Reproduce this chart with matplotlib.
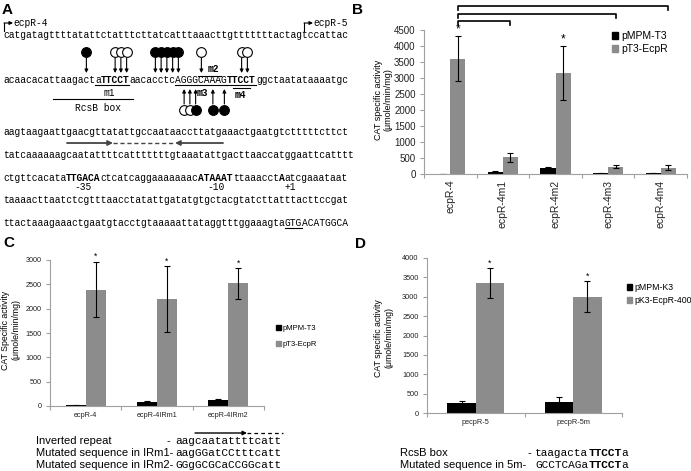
import numpy as np
import matplotlib.pyplot as plt
from matplotlib.patches import Patch
from matplotlib.transforms import blended_transform_factory

W, H = 691, 471
sans = 'Liberation Sans'
mono = 'Liberation Mono'
gry = '#8c8c8c'
axc = '#a0a0a0'

# ---------------- panel A: promoter sequence ----------------
seq_lines = [
    [("catgatagttttatattctatttcttatcatttaaacttgtttttttactagtccattac", "")],
    [("acaacacattaagact", ""), ("a", "u"), ("TTCCT", "bu"), ("aacacctc", ""),
     ("AGGGCAAAG", "u"), ("TTCCT", "bu"), ("ggctaatataaaatgc", "")],
    [("aagtaagaattgaacgttatattgccaataaccttatgaaactgaatgtctttttcttct", "")],
    [("tatcaaaaaagcaatattttcatttttttgtaaatattgacttaaccatggaattcatttt", "")],
    [("ctgttcacata", ""), ("TTGACA", "b"), ("ctcatcaggaaaaaaac", ""), ("ATAAAT", "b"),
     ("ttaaacct", ""), ("A", "b"), ("atcgaaataat", "")],
    [("taaaacttaatctcgtttaacctatattgatatgtgctacgtatcttatttacttccgat", "")],
    [("ttactaaagaaactgaatgtacctgtaaaaattataggtttggaaagta", ""), ("GTG", "u"), ("ACATGGCA", "")],
]
seq_y = [35, 80, 132, 155, 178, 200, 223]
# footprint sites on line 2 (char index, filled?)
top_sites = [(14, True), (19, False), (20, False), (21, False), (26, True), (27, True),
             (28, True), (29, True), (30, True), (34, False), (41, False), (42, False)]
bot_sites = [(31, False), (32, False), (33, True), (36, True), (38, True)]

# ---------------- panel B ----------------
b_cats = ['ecpR-4', 'ecpR-4m1', 'ecpR-4m2', 'ecpR-4m3', 'ecpR-4m4']
b_t3 = [10, 70, 200, 40, 30]
b_t3_err = [3, 10, 20, 6, 8]
b_ecpr = [3600, 520, 3150, 230, 200]
b_ecpr_err = [700, 130, 840, 40, 80]
b_star = [True, False, True, False, False]
b_pairs = [(0, 1), (0, 3), (0, 4)]

# ---------------- panel C ----------------
c_cats = ['ecpR-4', 'ecpR-4IRm1', 'ecpR-4IRm2']
c_t3 = [20, 80, 115]
c_t3_err = [4, 15, 20]
c_ecpr = [2390, 2200, 2520]
c_ecpr_err = [570, 670, 315]
c_star = [True, True, True]

# ---------------- panel D ----------------
d_cats = ['pecpR-5', 'pecpR-5m']
d_k3 = [260, 290]
d_k3_err = [60, 120]
d_ecpr = [3350, 3000]
d_ecpr_err = [390, 400]
d_star = [True, True]


def box(l, t, r, b):
    return [l / W, 1 - b / H, (r - l) / W, (b - t) / H]


fig = plt.figure(figsize=(W / 100, H / 100), dpi=100)
ov = fig.add_axes([0, 0, 1, 1])
ov.set_xlim(0, W)
ov.set_ylim(H, 0)
ov.axis('off')
ov.patch.set_facecolor('none')

x0 = 3.0
cw = 5.75
sfs = cw / 0.6 * 0.72


def seq(x, y, segs, fs, cwid):
    i = 0
    for s, st in segs:
        xs = x + i * cwid
        ov.text(xs, y, s, family=mono, fontsize=fs, ha='left', va='center',
                fontweight='bold' if 'b' in st else 'normal')
        if 'u' in st:
            ov.plot([xs, xs + len(s) * cwid], [y + 5, y + 5], color='k', lw=0.8)
        i += len(s)


for segs, y in zip(seq_lines, seq_y):
    seq(x0, y, segs, sfs, cw)

cx = lambda i: x0 + (i + 0.5) * cw
arw = dict(arrowstyle='-|>', lw=0.8, color='k', mutation_scale=5, shrinkA=0, shrinkB=0)
for i, f in top_sites:
    ov.annotate('', xy=(cx(i), 73), xytext=(cx(i), 58), arrowprops=arw)
    ov.plot(cx(i), 52, 'o', ms=7, mfc='k' if f else 'white', mec='k', mew=0.8)
for i, f in bot_sites:
    ov.annotate('', xy=(cx(i), 89), xytext=(cx(i), 104), arrowprops=arw)
    ov.plot(cx(i), 110, 'o', ms=7, mfc='k' if f else 'white', mec='k', mew=0.8)

# region labels
ov.plot([53, 133], [99, 99], color='k', lw=0.8)
ov.text(109, 93, 'm1', family=mono, fontsize=sfs, ha='center', va='center')
ov.text(98, 108, 'RcsB box', family=mono, fontsize=sfs, ha='center', va='center')
ov.plot([x0 + 34 * cw, x0 + 38 * cw], [76, 76], color='k', lw=0.8)
ov.text(213, 69, 'm2', family=mono, fontsize=sfs, ha='center', va='center', fontweight='bold')
ov.text(202, 93, 'm3', family=mono, fontsize=sfs, ha='center', va='center', fontweight='bold')
ov.plot([x0 + 40 * cw, x0 + 43 * cw], [88, 88], color='k', lw=0.8)
ov.text(240, 95, 'm4', family=mono, fontsize=sfs, ha='center', va='center', fontweight='bold')

# inverted repeat arrows
ov.annotate('', xy=(113, 143), xytext=(67, 143),
            arrowprops=dict(arrowstyle='-|>', lw=1.3, color='#444', mutation_scale=7, shrinkA=0, shrinkB=0))
ov.plot([113, 175], [143, 143], color='#444', lw=1.0, ls=(0, (3, 2)))
ov.annotate('', xy=(175, 143), xytext=(223, 143),
            arrowprops=dict(arrowstyle='-|>', lw=1.3, color='#444', mutation_scale=7, shrinkA=0, shrinkB=0))

ov.text(x0 + 14 * cw, 187, '-35', family=mono, fontsize=sfs, ha='center', va='center')
ov.text(x0 + 37 * cw, 187, '-10', family=mono, fontsize=sfs, ha='center', va='center')
ov.text(x0 + 50 * cw, 187, '+1', family=mono, fontsize=sfs, ha='center', va='center')

# transcription start arrows
for xa, lab in [(4, 'ecpR-4'), (304, 'ecpR-5')]:
    ov.plot([xa, xa], [31, 23], color='k', lw=0.8)
    ov.annotate('', xy=(xa + 9, 23), xytext=(xa, 23), arrowprops=arw)
    ov.text(xa + 9, 23, lab, family=mono, fontsize=sfs, ha='left', va='center')

# panel letters
for lx, ly, l in [(2, 3, 'A'), (352, 3, 'B'), (3, 236, 'C'), (355, 237, 'D')]:
    ov.text(lx, ly, l, family=sans, fontsize=11, fontweight='bold', ha='left', va='top')


def bars(rect, cats, v1, e1, v2, e2, ymax, ystep, bw, fs, rot, stars, cap, yfs=None):
    ax = fig.add_axes(box(*rect))
    x = np.arange(len(cats))
    ekw = dict(ecolor='black', elinewidth=0.8, capsize=cap, capthick=0.8)
    ax.bar(x - bw / 2, v1, bw, color='black', yerr=e1, error_kw=ekw)
    ax.bar(x + bw / 2, v2, bw, color=gry, yerr=e2, error_kw=ekw)
    for i in range(len(cats)):
        if stars[i]:
            ax.text(x[i] + bw / 2, v2[i] + e2[i] + ymax * 0.005, '*', ha='center', va='bottom',
                    fontsize=fs + 1, family=sans)
    ax.set_xlim(-0.5, len(cats) - 0.5)
    ax.set_ylim(0, ymax)
    ax.set_yticks(np.arange(0, ymax + 1, ystep))
    ax.set_xticks(x)
    ax.set_xticklabels(cats, rotation=rot, family=sans, fontsize=fs, color='#222')
    ax.set_xticks(np.arange(len(cats) + 1) - 0.5, minor=True)
    ax.tick_params(axis='x', which='major', length=0, pad=4)
    ax.tick_params(axis='x', which='minor', length=3, color=axc, width=0.8)
    ax.tick_params(axis='y', length=3, color=axc, width=0.8, labelsize=yfs or fs,
                   labelcolor='#222', pad=3)
    for t in ax.get_yticklabels():
        t.set_family(sans)
    for s in ['top', 'right']:
        ax.spines[s].set_visible(False)
    for s in ['left', 'bottom']:
        ax.spines[s].set_color(axc)
        ax.spines[s].set_linewidth(0.8)
    return ax, x


def legend(ax, lx, ly, labels, fs, sp):
    hs = [Patch(color='black'), Patch(color=gry)]
    ax.legend(hs, labels, loc='upper left', bbox_to_anchor=(lx / W, 1 - ly / H),
              bbox_transform=fig.transFigure, frameon=False, prop={'family': sans, 'size': fs},
              handlelength=0.6, handleheight=0.6, handletextpad=0.25, labelspacing=sp,
              borderpad=0, borderaxespad=0)


# B
bw_b = 0.286
axb, xb = bars((424, 30, 687, 174), b_cats, b_t3, b_t3_err, b_ecpr, b_ecpr_err,
               4500, 500, bw_b, 7.5, 90, b_star, 2.2, yfs=7)
legend(axb, 612, 31, ['pMPM-T3', 'pT3-EcpR'], 7.5, 0.3)
tr = blended_transform_factory(axb.transData, fig.transFigure)
for (i, j), yl in zip(b_pairs, [21, 14, 6]):
    xi, xj = xb[i] + bw_b / 2, xb[j] + bw_b / 2
    yt, yb = 1 - yl / H, 1 - (yl + 4) / H
    axb.plot([xi, xi, xj, xj], [yb, yt, yt, yb], color='k', lw=1.2, transform=tr, clip_on=False)
ov.text(383, 100, 'CAT specific activity\n(μmole/min/mg)', rotation=90, ha='center', va='center',
        family=sans, fontsize=6.5, linespacing=1.1)

# C
axc_, xc = bars((50, 260, 264, 406), c_cats, c_t3, c_t3_err, c_ecpr, c_ecpr_err,
                3000, 500, 0.28, 5.2, 0, c_star, 2.0)
legend(axc_, 276, 325, ['pMPM-T3', 'pT3-EcpR'], 5.5, 1.2)
ov.text(11, 330, 'CAT Specific activity\n(μmole/min/mg)', rotation=90, ha='center', va='center',
        family=sans, fontsize=6.3, linespacing=1.15)

# D
axd, xd = bars((427, 258, 622, 413), d_cats, d_k3, d_k3_err, d_ecpr, d_ecpr_err,
               4000, 500, 0.29, 5.3, 0, d_star, 2.0)
legend(axd, 627, 283, ['pMPM-K3', 'pK3-EcpR-400'], 6.3, 0.45)
ov.text(384, 338, 'CAT specific activity\n(μmole/min/mg)', rotation=90, ha='center', va='center',
        family=sans, fontsize=6.3, linespacing=1.2)

# sequences under C and D
mcw = 8 / 0.72 * 0.6
ov.annotate('', xy=(247, 433), xytext=(195, 433),
            arrowprops=dict(arrowstyle='-|>', lw=1.0, color='k', mutation_scale=6, shrinkA=0, shrinkB=0))
ov.plot([247, 283], [433, 433], color='k', lw=0.9, ls=(0, (3, 2.5)))
ov.text(36, 441, 'Inverted repeat', family=sans, fontsize=8, va='center')
ov.text(167, 441, '-', family=sans, fontsize=8, va='center')
seq(175, 441, [("aagcaatattttcatt", "")], 8, mcw)
ov.text(36, 453, 'Mutated sequence in IRm1-', family=sans, fontsize=8, va='center')
seq(175, 453, [("aagGGatCCtttcatt", "")], 8, mcw)
ov.text(36, 465, 'Mutated sequence in IRm2-', family=sans, fontsize=8, va='center')
seq(175, 465, [("GGgGCGCaCCGGcatt", "")], 8, mcw)

ov.text(400, 453, 'RcsB box', family=sans, fontsize=8, va='center')
ov.text(528, 453, '-', family=sans, fontsize=8, va='center')
seq(535, 453, [("taagacta", ""), ("TTCCT", "b"), ("a", "")], 8, mcw)
ov.text(400, 465, 'Mutated sequence in 5m-', family=sans, fontsize=8, va='center')
seq(535, 465, [("GCCTCAGa", ""), ("TTCCT", "b"), ("a", "")], 8, mcw)

fig.savefig('out.png', dpi=100)
